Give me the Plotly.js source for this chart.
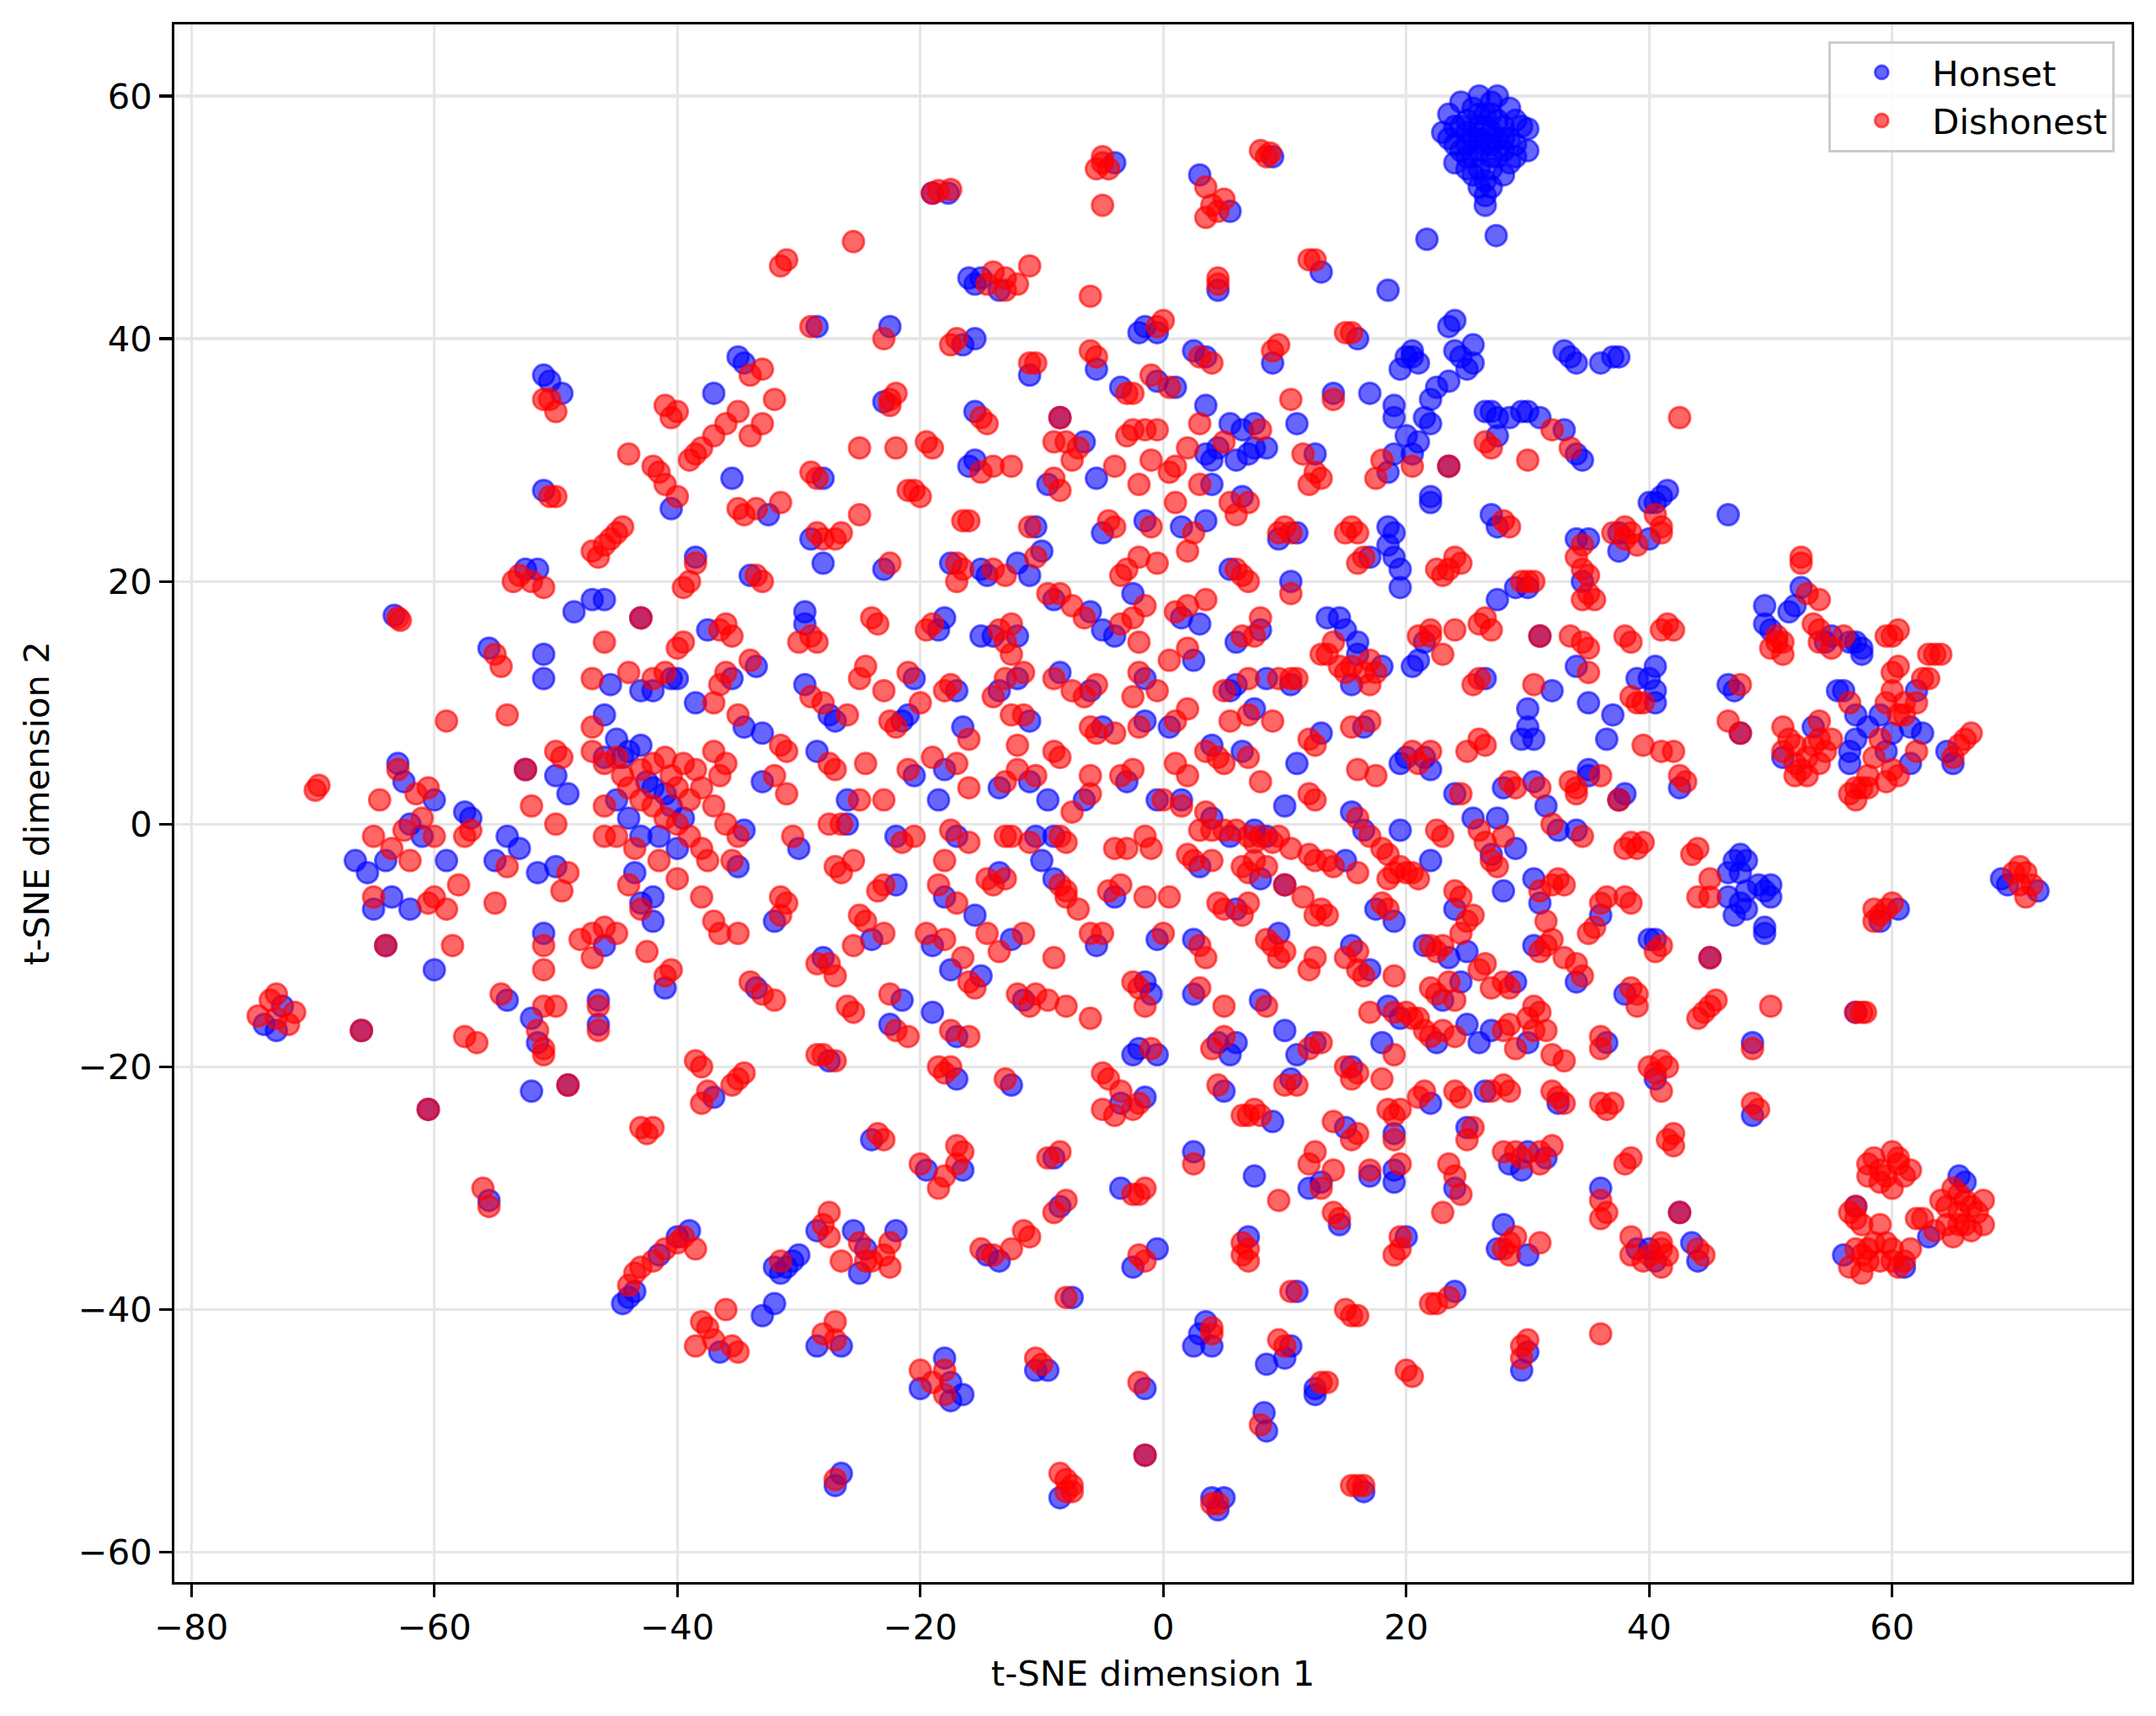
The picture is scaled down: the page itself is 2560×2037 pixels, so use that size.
<!DOCTYPE html>
<html>
<head>
<meta charset="utf-8">
<script src="https://cdn.plot.ly/plotly-3.0.1.min.js"></script>
<style>html,body{margin:0;padding:0;background:#fff;}#chart{width:2560px;height:2037px;}</style>
</head>
<body>
<div id="chart"></div>
<script>
// Series labels (as printed in the reference legend)
const seriesNames = ["Honset", "Dishonest"];
const axisTitles = ["t-SNE dimension 1", "t-SNE dimension 2"];
const xTicks = [-80, -60, -40, -20, 0, 20, 40, 60];
const yTicks = [-60, -40, -20, 0, 20, 40, 60];

// Honset points [x, y]
const honsetCluster = [
[23,57],[23.5,58.5],[24,56],[24,54.5],[24.5,57.5],[24.5,59.5],[25,55],[25,58],[25.5,56.5],[25.5,53.5],[25.5,59],[26,55.5],[26,57.5],[26,60],[26,54],[26.5,56],[26.5,58.5],[26.5,53],[27,55],[27,57],[27,59.5],[27,54],[27.5,56.5],[27.5,58],[27.5,60],[28,55.5],[28,57.5],[28,53.5],[28.5,59],[28.5,56.5],[29,55],[29,58],[29.5,57.5],[29,56],[30,55.5],[30,57.3],[24,57.5],[23.5,56.5],[25,56],[26,56.5],[27,56],[26.5,57.5],[25.5,55],[27.5,55],[28,56.5],[25,57],[26,58.5],[27,58.5],[25,54],[24.5,55.5],[27,52.5],[26,52.5],[28.5,54.5],
[21.7,48.2],[27.4,48.5],[26.5,51],[26.5,51.8]
];
const honsetOther = [
[-73,-17],[-72.5,-15],[-74,-16.5],[-66,-17],[-63.3,17.2],
[-66.5,-3],[-65.5,-4],[-65,-7],[-64,-3],[-63.5,-6],[-62,-7],[-62,0],[-61,-1],[-60,2],[-60,-12],[-59,-3],[-57.5,1],[-64,-10],[-63,5],[-62.5,3.5],
[-60.5,-23.5],[-57,0.5],[-55.5,-31],[-55.5,14.5],[-55,-3],[-54,-1],[-53,-2],[-54,-14.5],[-52.5,21],[-51.5,21],[-52.5,4.5],[-51.5,-4],[-52,-22],[-51.5,-18],[-52,-16],[-51,-9],[-51,12],[-51,14],[-51,27.5],[-51,37],[-50.5,36.5],[-49.5,35.5],[-50,4],[-50,-3.5],[-49,-21.5],[-49,2.5],[-48.5,17.5],[-47,18.5],[-46.5,-16.5],
[-46,18.5],[-43,17],[-40.5,12],[-42,11],[-43,11],[-44,6],[-46,9],[-45.5,11.5],
[-46,5.5],[-45,7],[-44.5,5.5],[-43,6.5],[-42.5,3.5],[-42,3],[-41,2.5],[-40.5,1.5],[-39.5,0.5],[-40,-2],[-41.5,-1],[-43,-1],[-44,0.5],[-45,2],[-43.5,-4],[-42,-6],[-43,-6.5],[-41,-13.5],[-42,-8],[-46,-10],[-46.5,-14.5],[-44,-39],[-43.5,-38.5],[-40,-34],[-39,-33.5],[-44.5,-39.5],[-41.5,-35.5],
[-37,35.5],[-35,38.5],[-34.5,38],[-40.5,26],[-35.5,28.5],[-38.5,22],[-37.5,16],[-34,20.5],[-32.5,25.5],
[-40,12],[-38.5,10],[-35.5,12],[-33.5,13],[-34.5,8],[-33,7.5],[-33,3.5],[-34.5,-0.5],[-35,-3.5],[-33.5,-13.5],[-32,-8],[-30,-2],
[-37,-22.5],[-36.5,-43.5],[-33,-40.5],[-32,-39.5],[-31.5,-37],[-32,-36.5],[-31,-36.5],[-30.5,-36],[-30,-35.5],
[-28.5,41],[-22.5,41],[-23,34.8],[-28,28.5],[-29,23.5],[-28,21.5],[-23,21],[-29.5,16.5],[-29.5,17.5],[-27.5,9],[-27,8.5],[-29.5,11.5],[-28.5,6],[-26,0],[-26,2],[-21.5,8.5],[-20.5,12],[-21,9],[-22,-1],[-20.5,4],[-22,-5],[-24,-9.5],[-28,-11],[-21.5,-14.5],[-22.5,-16.5],
[-27.5,-19.5],[-24,-26],[-19.5,-28.5],[-28.5,-33.5],[-25,-37],[-22,-33.5],[-25.5,-33.5],[-24.5,-35],[-28.5,-43],[-26.5,-43],[-26.5,-53.5],[-27,-54.5],[-20,-46.5],
[-19,52],[-17.7,52],[-16.5,39.5],[-15.5,40],[-16,45],[-15.5,44.5],[-15,45],[-13.5,44],[-15.5,34],[-15.5,30],[-16,29.5],[-11,37],[-17.5,21.5],[-15,21],[-14.5,20.5],[-12,21.5],[-11,20.5],[-10.5,24.5],[-10,22.5],
[-18.5,16],[-18,17],[-17,11],[-16.5,8],[-15,15.5],[-14,15.5],[-12,15.5],[-13.5,11],[-12,12],[-11,8.5],[-11,3.5],[-13.5,3],[-18,4.5],[-18.5,2],[-17,-1],[-18,-6],[-13.5,-4],[-10.5,-1],[-10,-3],[-19,-10],[-17.5,-12],[-15,-12.5],[-15.5,-7.5],[-12.5,-9.5],[-11.5,-14.5],[-19,-15.5],[-17,-17.5],
[-17,-21],[-12.5,-21.5],[-16.5,-28.5],[-13.5,-36],[-14.5,-35.5],[-18,-44],[-17.5,-46],[-17.5,-47.5],[-16.5,-47],[-10.5,-45],[-9.5,-45],
[-4,54.5],[-2,40.5],[-1.5,41],[-0.5,36.5],[-3.5,36],[-5.5,37.5],[-6.5,31.5],[-8.5,33.5],[-5.5,28.5],[-9.5,28],[-5,24],[-1.5,25],[-9,18.5],[-6,17.5],[-5,16],[-4,15.5],[-2.5,19],
[-8.5,12.5],[-6,11],[-5,8],[-1.5,8.5],[-1.5,12],[-9.5,2],[-9,-1],[-6.5,2],[-3,3.5],[-0.5,2],[-9,-4.5],[-5.5,-10],[-4,-6],[-0.5,-9.5],[-1.5,-13],[-1,-14],[-2.5,-19],[-2,-18.5],[-0.5,-19],[-3.5,-23],[-1.5,-22.5],
[-9,-27.5],[-8.5,-31.5],[-7.5,-39],[-3.5,-30],[-2.5,-36.5],[-0.5,-35],[-1.5,-46.5],[-1.5,-52],[-8.5,-55.5],
[3,53.5],[5.5,50.5],[9,55],[4.5,44],[3.5,38.5],[2.5,39],[-0.5,40.5],[1,36],[9,38],[3.5,34.5],[3.5,30.5],[4,30],[4.5,31],[5.5,33],[6.5,32.5],[6,30],[7,30.5],[7.5,31],[7.5,33],[8.5,31],[1.5,24.5],[3.5,25],[4,28],[6.5,27],[5.5,21],[9.5,23.5],[1.5,17],[3,16.5],[2.5,13.5],[6,15],[8,16],
[0.5,8],[5.5,11],[6,11.5],[7.5,9.5],[8.5,12],[4,6.5],[6.5,6],[1.5,2],[4,0.5],[5.5,-1],[7.5,-0.5],[8.5,-1],[3,-3.5],[8,-4.5],[10,-5],[6,-7],[9.5,-9],[2.5,-9.5],[2.5,-14],[8,-14.5],[4.5,-18],[5.5,-19],[6,-18],[5,-22],[9,-24.5],
[2.5,-27],[7.5,-29],[7,-34],[3.5,-41],[3,-42],[4,-43],[2.5,-43],[8.5,-44.5],[8.3,-48.5],[8.5,-50],[4,-55.5],[4.5,-56.5],[5,-55.5],
[13,45.5],[16,40],[12.5,30.5],[11,33],[14,35.5],[17,35.5],[19,30.5],[18.5,29],[19,33.5],[19,34.5],[19.5,37.5],[18.5,44],[20,38.5],[17,22],[18.5,24.5],[19,24],[18.5,23],[19,22],[19.5,21],[19.5,19.5],[10.5,20],[11,24],[13.5,17],[14.5,17],[15,16],[16,15],[16,14],[18,13],[15.5,11.5],[16.5,8],[13,7.5],[10.5,11.5],[11,5],[19.5,5],[20,5.5],[10,1.5],
[15.5,1],[16.5,-0.5],[15,-3],[19.5,-0.5],[17.5,-7],[19,-8],[15.5,-10],[17,-12],[18.5,-15],[12.5,-18],[15.5,-20],[11,-19],[10.5,-21],[10,-17],[18,-18],[19.5,-16],[15,-25],[19,-25.5],[19,-28.5],[19,-29.5],[12,-30],[13,-29.5],[17,-29],
[11,-38.5],[14.5,-33],[10,-44],[10.5,-43],[12.5,-46.5],[12.5,-47],[20,-34],[16.5,-55],
[20.5,38.5],[20.5,39],[21,38],[22,35],[22.5,36],[23.5,36.5],[24,39],[24.5,38.5],[25.5,39.5],[25.5,38],[25,37.5],[24,41.5],[23.5,41],[23.5,29.5],[20,32],[20.5,30.5],[21,31.5],[21.5,33.5],[22,27],[22,26.5],[22,33],[21.5,15],[26.5,34],[27,34],[27.5,33.5],[28.5,33.5],[29.5,34],[30,34],[27.5,32],[27,25.5],[27.5,24.5],[29,19.5],[27.5,18.5],[26.5,12],[21,13.5],[20.5,13],
[21.5,5.5],[22,4.5],[24,2.5],[25.5,0.5],[29.5,7],[30,8],[30,9.5],[30.5,7],[30.5,3.5],[28,3],[27.5,0.5],[29,-2],[22,-3],[24,-7],[27,-2.5],[28,-5.5],[21.5,-10],[23.5,-11],[25,-10.5],[23,-14.5],[24.5,-13],[29,-13],[22.5,-18],[25,-16.5],[26,-18],[27,-17],
[22,-23],[25,-25],[26.5,-22],[28.5,-28],[29.5,-28.5],[30,-27],[24,-30],[28,-33],[27.5,-35],[29.5,-45],[30,-43.5],[24,-38.5],
[33,39],[33.5,38.5],[34,38],[36,38],[37,38.5],[37.5,38.5],[33,32.5],[34,30.5],[34.5,30],[31,33.5],[34,23.5],[35,23.5],[37.5,24],[34.5,20],[30,19.5],[34,13],[31,15.5],[32,11],[36.5,7],[37,9],[35,10],
[31.5,1.5],[32.5,-0.5],[34,-0.5],[35,4.5],[35,4],[30.5,-4.5],[31,-6.5],[30.5,-10],[34,-13],[36,-7.5],[30,-18],[36.5,-18],[38,-14],[31.5,-27.5],[32.5,-23],[36,-30],
[39,12],[37.5,22.5],[40,26.5],[40.5,26.5],[41,27],[41.5,27.5],[40,23.5],[38,2.5],[37.5,2],[30,-35.5],[39,-35],
[46.5,25.5],[40.5,13],[40,12],[40.5,11],[40.5,10],[42.5,3],[40,-9.5],[40.5,-9.5],[45,-11],[46.5,11.5],[47,11],[47.5,7.5],[47,-3],[47.5,-2.5],[48,-3],[47.5,-4],[46.5,-4],[48,-5.5],[47.5,-6.5],[46.5,-6],[47,-7.5],[48,-7],[49,-5],[49.5,-5.5],[50,-5],[50,-6],[49.5,-8.5],[49.5,-9],[48.5,-18],[48.5,-24],[40.5,-21],[42.5,-32],[40,-35],[40.5,-36],[43.5,-34.5],[44,-36],
[49.5,18],[49.5,16.5],[50,16],[51.5,17.5],[52,18],[52.5,19.5],[54.5,15],[55,15.5],[51,5.5],[53.5,8],[55.5,11],[56,11],[56.5,15],[57,15],[57.5,14.5],[57.5,14],[57,9],[56.5,6],[57,7],[56.5,5],[58,8],[59,9],[60,7.5],[59.5,6],[61.5,5],[61.5,8],[62,11],[62.5,7.5],[64.5,6],[65,5],
[57,-15.5],[59,-8],[60.5,-7],[69,-4.5],[69.5,-5],[72,-5.5],[63,-34],[65.5,-29],[66,-29.5],[56,-35.5],[61,-36.5],[57,-31.5]
];

// Dishonest points [x, y]
const dishonestPoints = [
[-74.5,-15.8],[-73.5,-14.5],[-73,-16],[-72,-16.5],[-71.5,-15.5],[-73,-14],[-69.8,2.8],[-69.5,3.2],[-66,-17],
[-65,-1],[-65,-6],[-64.5,2],[-64,-10],[-63,4.5],[-63.5,-2],[-62.5,-0.5],[-62,-3],[-61.5,2.5],[-61,0.5],[-60.5,3],[-60,-1],[-60,-6],[-59,-7],[-58,-5],[-58.5,-10],[-57.5,-1],[-60.5,-6.5],[-63,17],[-62.8,16.8],
[-60.5,-23.5],[-59,8.5],[-57,-0.5],[-57.5,-17.5],[-56.5,-18],[-56,-30],[-55.5,-31.5],[-55,14],[-54.5,13],[-55,-6.5],[-54,-3.5],[-54.5,-14],[-54,9],[-53.5,20],[-53,20.5],[-52,20],[-51,19.5],[-52.5,4.5],[-52,1.5],[-51,-19],[-51.5,-17],[-51,-18.5],[-51,-10],[-51,-12],[-51,-15],[-50.5,27],[-50,27],[-50.5,35],[-50,34],[-51,35],[-50,6],[-49.5,5.5],[-49.5,-5.5],[-49,-4],[-50,0],[-50,-15],[-49,-21.5],[-46.5,-15],[-46.5,-17],
[-46,23],[-45.5,23.5],[-45,24],[-44.5,24.5],[-44,30.5],[-47,22.5],[-46.5,22],[-44,12.5],[-43,17],[-42,12],[-41,12.5],[-47,8],[-46,15],[-47,12],
[-47,6],[-46,5],[-45,5.5],[-44.5,4],[-44,3],[-43,4.5],[-42,5],[-41,5.5],[-40.5,4],[-40,3],[-39.5,5],[-39,2],[-38.5,4.5],[-38,3],[-43,2],[-42,1.5],[-41,0.5],[-40,0],[-39,-1],[-38,-2],[-41.5,-3],[-40,-4.5],[-43.5,-2],[-44,-5],[-45,-9],[-46,-8.5],[-45,-1],[-46,-1],[-46,1.5],[-47,-9],[-48,-9.5],[-47,-11],[-43,-7],[-42.5,-10.5],[-41,-12.5],[-40.5,-12],[-42,-25],[-42.5,-25.5],[-43,-25],
[-44,-38],[-43.5,-37],[-43,-36.5],[-42,-36],[-41,-35],[-40,-34.5],[-39.5,-34],[-38.5,-35],
[-34,37],[-33,37.5],[-31.5,46],[-31,46.5],[-35,34],[-36,33],[-37,32],[-38,31],[-38.5,30.5],[-39,30],[-40,34],[-40.5,33.5],[-41,34.5],[-41,28],[-40,27],[-41.5,29],[-42,29.5],[-34,32],[-33,33],[-32,35],[-38.5,21.5],[-39,20],[-39.5,19.5],[-36.5,16],[-35.5,15.5],[-36,16.5],[-33.5,20.5],[-33,20],[-35,26],[-34.5,25.5],[-33.5,26],[-31.5,26.5],
[-40,14.5],[-39.5,15],[-37,10],[-36.5,11.5],[-36,12.5],[-34,13.5],[-35,9],[-31.5,6.5],[-31,6],[-32,4],[-36,5],[-37,6],[-36.5,4],[-37,1.5],[-36,0],[-35,-1],[-35.5,-3],[-37.5,-3],[-38,-6],[-37,-8],[-36.5,-9],[-35,-9],[-34,-13],[-33,-14],[-32,-14.5],[-31.5,-6],[-31.5,-7.5],[-31,-6.5],[-30.5,-1],[-31,2.5],
[-38.5,-19.5],[-38,-20],[-37.5,-22],[-38,-23],[-35,-21],[-35.5,-21.5],[-34.5,-20.5],[-38,-41],[-37.5,-41.5],[-38.5,-43],[-37,-42.5],[-35,-43.5],[-35.5,-43],[-36,-40],[-31.5,-36],
[-29,41],[-25.5,48],[-23,40],[-22.5,35],[-22,35.5],[-22.5,34.5],[-29,29],[-28.5,28.5],[-25,31],[-27,23.5],[-26.5,24],[-28,23.5],[-28.5,24],[-25,25.5],[-22.5,21.5],[-24,17],[-23.5,16.5],[-20.5,27.5],[-21,27.5],[-20,27],[-22,31],
[-29,15.5],[-28.5,15],[-30,15],[-29,10.5],[-28,10],[-26,9],[-27.5,5],[-27,4.5],[-27.5,0],[-26.5,0],[-27,-3.5],[-26.5,-4],[-25.5,-3],[-25,12],[-24.5,13],[-23,11],[-22.5,8.5],[-22,8],[-21,12.5],[-20,10],[-24.5,5],[-25,2],[-23,2],[-21.5,-1.5],[-20.5,-1],[-21,4.5],[-23.5,-5.5],[-23,-5],[-25,-7.5],[-24.5,-8],[-25.5,-10],[-23,-9],[-27.5,-11.5],[-27,-12.5],[-28.5,-11.5],[-26,-15],[-25.5,-15.5],[-22.5,-14],[-22,-17],[-21,-17.5],
[-28,-19],[-27,-19.5],[-28.5,-19],[-23.5,-25.5],[-23,-26],[-20,-28],[-28,-33],[-27.5,-32],[-27.5,-34],[-26.5,-36],[-25,-34.5],[-24.5,-36],[-24,-36],[-23,-35.5],[-22.5,-34.5],[-22.5,-36.5],[-28,-42],[-27,-42.5],[-27,-41],[-27,-54],[-20,-45],
[-19,52],[-18.5,52.2],[-17.5,52.3],[-17.5,39.5],[-17,40],[-14.5,44.5],[-13,45],[-12,44.5],[-11,46],[-13,44],[-14,45.5],[-19,31],[-19.5,31.5],[-15,33.5],[-14.5,33],[-15,29],[-14,29.5],[-12.5,29.5],[-11,38],[-10.5,38],[-16.5,25],[-16,25],[-17,21.5],[-16.5,21],[-17,20],[-14,21],[-13,20.5],[-11,24.5],[-10.5,22],
[-19.5,16],[-19,16.5],[-18,11],[-17.5,11.5],[-16,7],[-13.5,16],[-13,15],[-12.5,16.5],[-12.5,14],[-14,10.5],[-13,12],[-11.5,12.5],[-12.5,9],[-11.5,9],[-12,4.5],[-10.5,4],[-13,3.5],[-12,6.5],[-19,5.5],[-17,5],[-16,3],[-17.5,-0.5],[-16,-1.5],[-18,-3],[-18.5,-5],[-17,-6.5],[-14.5,-4.5],[-14,-5],[-13,-4.5],[-13,-1],[-12.5,-1],[-11,-1.5],[-19.5,-9],[-18,-9.5],[-16,-13],[-15.5,-13.5],[-16.5,-11],[-14.5,-9],[-13.5,-10.5],[-11.5,-9],[-12,-14],[-11,-15],[-10.5,-14],[-17.5,-17],[-16,-17.5],
[-18.5,-20],[-18,-20.5],[-17.5,-20],[-13,-21],[-17,-26.5],[-16.5,-27],[-17,-28],[-18,-29],[-18.5,-30],[-15,-35],[-14,-35.5],[-11.5,-33.5],[-11,-34],[-12.5,-35],[-18,-45],[-18,-47],[-19,-46],[-10.5,-44],[-10,-44.5],
[-5.5,54],[-5,54.5],[-4.5,54],[-5,55],[-5,51],[-6,43.5],[-0.5,41],[-1,37],[-2.5,35.5],[-3,35.5],[-5.5,38.5],[-6,39],[-7,31],[-8,31.5],[-7.5,30],[-9,31.5],[-8.5,33.5],[-4,29.5],[-3,32],[-2.5,32.5],[-2,28],[-1,30],[-1.5,32.5],[-0.5,32.5],[-9,28.5],[-8.5,27.5],[-4.5,25],[-4,24.5],[-3.5,20.5],[-3,21],[-2,22],[-1,24.5],[-0.5,21.5],[-9.5,19],[-8.5,19],[-7.5,18],[-6.5,17],[-3.5,16.5],[-2.5,17],[-1.5,18],[-2,15],
[-9,12],[-7.5,11],[-6.5,10.5],[-5.5,11.5],[-6,8],[-5.5,7.5],[-4,7.5],[-2.5,10.5],[-2,8],[-2,12.5],[-0.5,11],[-9,6],[-8.5,5.5],[-8.5,-1],[-8,-1.5],[-7.5,1],[-6,2.5],[-6,4],[-3.5,4],[-2.5,4.5],[-4,-2],[-3,-2],[-1.5,-1],[0,2],[-1,-2],[-8.5,-5],[-8,-5.5],[-8,-6],[-6,-9],[-5,-9],[-7,-7],[-4.5,-5.5],[-3.5,-5],[-1.5,-6],[0,-9],[-9,-11],[-2.5,-13],[-2,-13.5],[-1.5,-15],[-9.5,-14.5],[-8,-15],[-6,-16],[-1,-18.5],[-5,-20.5],[-4.5,-21],[-3.5,-22],[-2.5,-23.5],[-2,-23],[-5,-23.5],[-4,-24],
[-9.5,-27.5],[-8.5,-27],[-9,-32],[-8,-31],[-8,-39],[-2.5,-30.5],[-2,-30.5],[-1.5,-30],[-2,-35.5],[-1.5,-36],[-2,-46],[-1.5,-52],[-8.5,-53.5],[-8,-54],[-7.5,-54.5],[-7.5,-55],[-8,-55],
[3.5,52.5],[4,51],[3.5,50],[4.5,50.5],[5,51.5],[8,55.5],[8.5,55],[8.8,55.3],[4.5,44.5],[4.5,45],[3,38.5],[4,38],[0,41.5],[0.5,36],[9,39],[9.5,39.5],[3,33],[2,31],[5,31.5],[8,32.5],[1,29.5],[0.5,29],[1,26.5],[2,22.5],[2.5,24],[3,28],[6,25.5],[7,26.5],[5.5,26.5],[6,21],[6.5,20.5],[7,20],[9.5,24],[8,17],[1,17.5],[2,18],[3.5,18.5],[2,14.5],[0.5,13.5],[6.5,15.5],[7.5,15.5],
[1,8.5],[2,9.5],[5,11],[7,12],[7,9],[9.5,12],[9,8.5],[5.5,8.5],[3.5,6],[4.5,5.5],[5,5],[7,5.5],[8,3.5],[2,4],[1,5],[1.5,1.5],[3.5,1],[3,-0.5],[4,-0.5],[5,-0.5],[6,-0.5],[7,-1],[7.5,-1.5],[8,-1],[9,-1.5],[9.5,-1],[0.5,-6],[2,-2.5],[2.5,-3],[4,-3],[6.5,-3.5],[7,-4],[8.5,-3.5],[7.5,-3],[10,-5],[4.5,-6.5],[5,-7],[6.5,-7.5],[7,-6.5],[8.5,-9.5],[9,-10],[9.5,-11],[10,-10.5],[3,-10],[3.5,-11],[3,-13.5],[8.5,-15],[5,-15],[4,-18.5],[5,-17.5],[4.5,-21.5],[7,-24],[7.5,-23.5],[8,-24],[6.5,-24],
[2.5,-28],[6.5,-34.5],[6.5,-35.5],[7,-35],[7,-36],[9.5,-31],[4,-42],[4,-41.5],[8,-49.5],[4,-56],[4.5,-56],
[12,46.5],[12.5,46.5],[15,40.5],[15.5,40.5],[12,28],[11.5,30.5],[10.5,35],[14,35],[17.5,28.5],[18,30],[12.5,29],[13,28.5],[15,24],[15.5,24.5],[16,24],[16.5,22],[16,21.5],[10.5,19],[10,24.5],[10.5,24],[14,15],[13.5,14],[13,14],[14.5,13],[15,12.5],[15.5,13],[16.5,12.5],[17,13.5],[17.5,12.5],[17,11.5],[17,8.5],[15.5,8],[12,7],[12.5,6.5],[11,12],[10.5,12],[12,2.5],[12.5,2],[16,4.5],[17.5,4],[20.5,6],
[16,0.5],[17,-1],[10.5,-2],[12,-2.5],[12.5,-3],[13.5,-3],[14,-3.5],[16,-4],[18,-2],[18.5,-2.5],[19,-4],[18.5,-4.5],[19.5,-3.5],[20,-4],[12.5,-7.5],[13,-7],[13.5,-7.5],[11.5,-6],[18,-6.5],[18.5,-7],[16,-10.5],[15,-11],[12,-12],[12.5,-11],[16,-12],[16.5,-12.5],[19,-12.5],[19,-15.5],[20,-15.5],[17,-15.5],[12,-18.5],[13,-18],[15,-20],[15.5,-21],[16,-20.5],[10,-21.5],[11,-21.5],[19,-19],[18,-21],[14,-24.5],[15.5,-26],[16,-25.5],[18.5,-23.5],[19,-24],[19.5,-23.5],[19,-26],[19.5,-28],[12,-28],[12.5,-27],[13,-30],[14,-28.5],[17,-28.5],
[10.5,-38.5],[14,-32],[14.5,-32.5],[15,-40],[15.5,-40.5],[16,-40.5],[10,-43],[9.5,-42.5],[13,-46],[13.5,-46],[19.5,-34],[19.5,-35],[19,-35.5],[20,-45],[20.5,-45.5],[16,-54.5],[16.5,-54.5],[15.5,-54.5],
[20.5,29.5],[23.5,29.5],[24,22],[24.5,21.5],[23.5,21],[23,20.5],[22.5,21],[22,16],[22,15.5],[21,15.5],[24,16],[26.5,31.5],[27,31],[28,25],[28.5,24.5],[29.5,20],[30,20],[26,16.5],[26.5,17],[27,16],[25.5,11.5],[26,12],[23,14],
[22,6],[21,5],[24.5,2.5],[26,-0.5],[25,6],[26,7],[26.5,6.5],[28.5,3.5],[29,3],[28,-1],[20.5,-4],[21,-4.5],[22.5,-0.5],[23,-1],[24,-5.5],[24.5,-6],[25,-8],[25.5,-7.5],[26.5,-1.5],[27,-3],[27.5,-3.5],[22,-10],[22.5,-10.5],[23,-10],[24.5,-9],[26,-12],[26.5,-11.5],[22,-13.5],[22.5,-14],[23.5,-13],[24,-14.5],[27,-13.5],[28,-13],[28.5,-13.5],[20.5,-16],[21,-16],[21.5,-17],[22,-17.5],[23,-17],[24,-17.5],[28,-17],[28.5,-16.5],[29,-18.5],[30,-16],
[21,-22.5],[21.5,-22],[24,-22],[24.5,-22.5],[25,-26],[25.5,-25],[27,-22],[28,-21.5],[28.5,-22],[28,-27],[29,-27],[29.5,-27.5],[24,-29],[23.5,-28],[24.5,-30.5],[23,-32],[28.5,-34.5],[28,-35],[29,-34],[28.5,-35.5],[29.5,-43],[29.5,-44],[30,-42.5],[22,-39.5],[22.5,-39.5],[23.5,-39],
[32,32.5],[33.5,31],[30,30],[34.5,23],[34,22],[34.5,21],[35,20.5],[35,19],[35.5,18.5],[34.5,18.5],[30.5,20],[33.5,15.5],[34.5,15],[35,14.5],[35,12.5],[31,15.5],[30.5,11.5],
[31,3],[32,0],[33.5,3.5],[34,3],[34,2.5],[34.5,-1],[36,4],[31,-5.5],[32,-5],[32.5,-4.5],[33,-5],[31.5,-8],[31,-10.5],[31.5,-10],[32,-9.5],[33,-11],[34,-11.5],[34.5,-12.5],[35,-9],[35.5,-8.5],[36,-6.5],[36.5,-6],[38,-2],[38.5,-1.5],[39,-2],[39.5,-1.5],[38,-6],[38.5,-6.5],[30.5,-15],[31,-15.5],[30.5,-17],[31.5,-17],[32,-19],[33,-19.5],[36,-17.5],[36,-18.5],[38.5,-13.5],[39,-14],[39,-15],[31,-27],[32,-26.5],[31,-28],[32,-22],[32.5,-22.5],[33,-23],[36,-23],[36.5,-23.5],[37,-23],[36,-31],[36.5,-32],[36,-32.5],[38,-28],[38.5,-27.5],
[38,15.5],[38.5,15],[39,10],[38.5,10.5],[39.5,6.5],[37,24],[38,24.5],[38.5,24],[39,23],[38,23.5],[40.5,25.5],[41,24.5],[41,24],[37.5,2],[31,-34.5],[36,-42],[38.5,-34],[39.5,-36],[40,-35.5],
[42.5,33.5],[41.5,16.5],[42,16],[41,16],[39.5,10],[41,6],[42,6],[42.5,4],[43,3.5],[43.5,-2.5],[44,-2],[44,-6],[45,-4.5],[45,-6],[41,-10],[40.5,-10.5],[45,-11],[46.5,8.5],[47.5,11.5],[47.5,7.5],[48.5,-18.5],[48.5,-23],[49,-23.5],[50,-15],[44,-16],[44.5,-15.5],[45,-15],[45.5,-14.5],[40,-20],[40.5,-20.5],[41,-19.5],[41.5,-20],[41,-22],[41.5,-26],[42,-25.5],[42,-26.5],[42.5,-32],[41,-35],[41.5,-35.5],[41,-36.5],[41,-34.5],[44,-35],[44.5,-35.5],[38.5,-35.5],
[50.5,15.5],[50,14.5],[50.5,15],[51,14],[51,15],[52.5,22],[52.5,21.5],[53,19],[54,18.5],[53.5,16.5],[54,15],[55,14.5],[54,16],[51,8],[51.5,7],[51,6],[52,5],[52.5,4.5],[52,4],[53,4],[53,5.5],[53.5,6.5],[52,6.5],[54,7],[54.5,6],[54,5],[54,8.5],[55,7],[56,15.5],[56.5,10],[57,3],[57.5,3],[57,2],[56.5,2.5],[58,3],[58,4],[58.5,5.5],[59.5,10],[60,11],[60,12.5],[60.5,13],[60,15.5],[60.5,16],[59.5,15.5],[60.5,9],[61,9],[61,10],[60,4.5],[60.5,4],[59.5,3.5],[62,6],[62,10],[62.5,12],[63,14],[63.5,14],[63,12],[64,14],[65,5.5],[65.5,6.5],[66,7],[66.5,7.5],[59,7],
[57.5,-15.5],[57.8,-15.5],[57,-15.5],[58.5,-7],[59,-7.5],[59.5,-7],[60,-6.5],[58.5,-8],[70,-4],[70.5,-3.5],[71,-4],[71.5,-5],[71,-6],[70.5,-5],
[58,-28],[58.5,-27.5],[59,-28.5],[59.5,-29],[60,-27],[60.5,-28],[61,-29],[61.5,-28.5],[60,-30],[59,-29.5],[58,-29],[60.5,-27.5],[56.5,-32],[57,-32.5],[57.5,-33],[57,-35],[57.5,-35.5],[58,-35],[58.5,-34.5],[58,-36],[57.5,-37],[56.5,-36.5],[59,-36],[59.5,-34.5],[60,-36],[60.5,-36.5],[61,-36],[61.5,-35],[60,-35],[59,-33],[62,-32.5],[62.5,-32.5],[63.5,-33.5],[64,-31],[64.5,-31.5],[65,-30],[65.5,-30.5],[66,-31],[65.5,-32],[66.5,-31.5],[67,-32],[67.5,-31],[66,-33],[65.5,-33],[64.5,-33],[65,-34],[66.5,-33.5],[67.5,-33],[57,-31.5]
];

const honset = honsetCluster.concat(honsetOther);
const FONT = "DejaVu Sans, Liberation Sans, sans-serif";

function trace(points, name, rgb) {
  const c = "rgba(" + rgb + ",0.6)";
  return {
    type: "scatter", mode: "markers", name: name,
    x: points.map(p => p[0]), y: points.map(p => p[1]),
    marker: { color: c, size: 25, line: { color: c, width: 3 } },
    hoverinfo: "skip"
  };
}

const data = [
  trace(honset, seriesNames[0], "0,0,255"),
  trace(dishonestPoints, seriesNames[1], "255,0,0")
];

const axisCommon = {
  showline: true, mirror: true, linecolor: "#000", linewidth: 3.3,
  ticks: "outside", ticklen: 14.6, tickwidth: 3.3, tickcolor: "#000",
  showgrid: true, gridcolor: "#e6e6e6", gridwidth: 3.3, zeroline: false,
  tickfont: { family: FONT, size: 41.7, color: "#000" },
  automargin: false
};

const layout = {
  width: 2560, height: 2037,
  margin: { l: 207, r: 29, t: 29, b: 159, pad: 0 },
  paper_bgcolor: "#fff", plot_bgcolor: "#fff",
  font: { family: FONT, size: 41.7, color: "#000" },
  xaxis: Object.assign({}, axisCommon, {
    range: [-81.4, 79.7], tickvals: xTicks,
    title: { text: axisTitles[0], font: { family: FONT, size: 41.7, color: "#000" }, standoff: 18 }
  }),
  yaxis: Object.assign({}, axisCommon, {
    range: [-62.45, 65.9], tickvals: yTicks,
    title: { text: axisTitles[1], font: { family: FONT, size: 41.7, color: "#000" }, standoff: 22 }
  }),
  showlegend: true,
  legend: {
    x: 0.9914, y: 0.9892, xanchor: "right", yanchor: "top",
    bgcolor: "rgba(255,255,255,0.8)", bordercolor: "#cccccc", borderwidth: 3.3,
    font: { family: FONT, size: 41.7, color: "#000" },
    itemwidth: 110, itemsizing: "trace", tracegroupgap: 0
  }
};

Plotly.newPlot("chart", data, layout, { displayModeBar: false, staticPlot: true });
</script>
</body>
</html>
